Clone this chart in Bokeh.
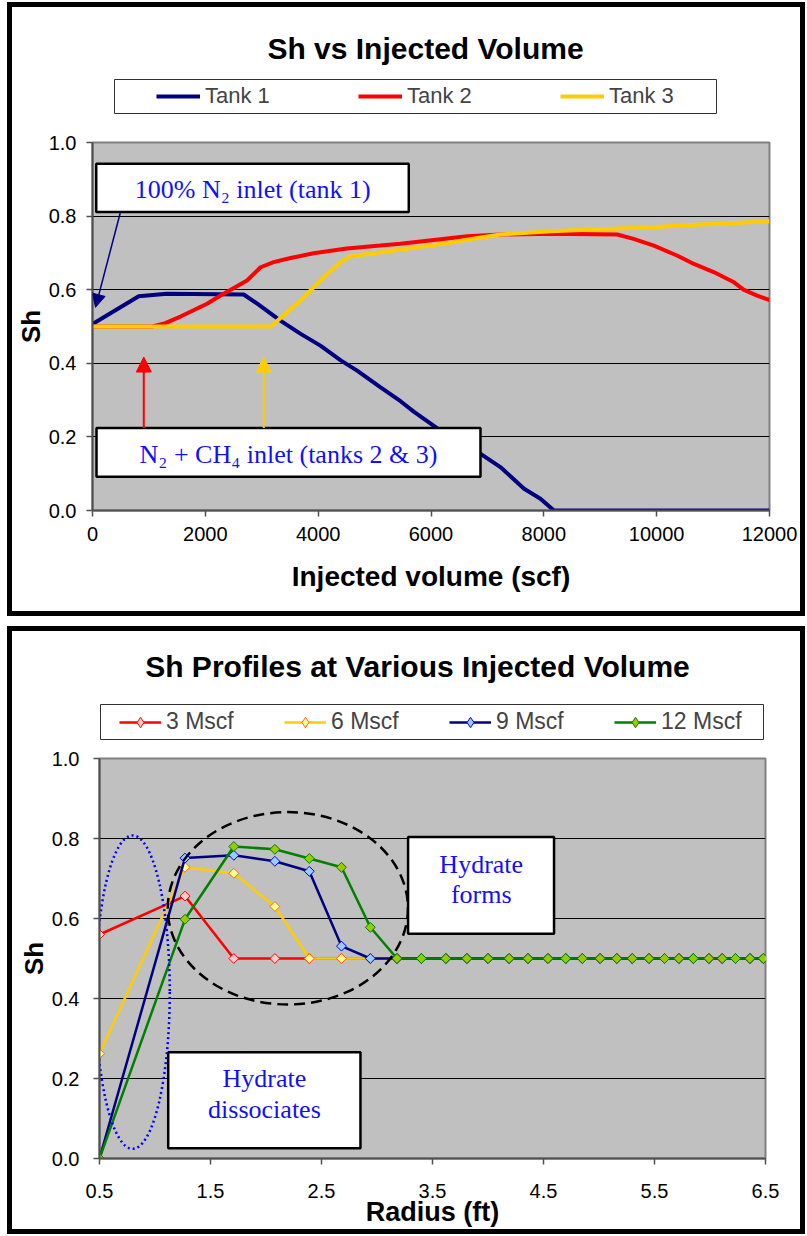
import math

from bokeh.embed import file_html
from bokeh.layouts import column
from bokeh.models import (Arrow, BoxAnnotation, FixedTicker, Label, Legend,
                          LegendItem, NormalHead, PrintfTickFormatter, Range1d)
from bokeh.plotting import figure
from bokeh.resources import INLINE

# ---------------------------------------------------------------------------
# Data: hydrate saturation (Sh) vs injected volume for the three tanks
# ---------------------------------------------------------------------------
tank1_vol = [0, 820, 1320, 2680, 2920, 3330, 3690, 4040, 4400, 4690, 5100,
             5460, 5700, 6170, 6520, 6880, 7230, 7650, 7940, 8180, 9000,
             10000, 11000, 12000]
tank1_sh = [0.507, 0.582, 0.589, 0.587, 0.562, 0.516, 0.480, 0.448, 0.408,
            0.380, 0.335, 0.297, 0.268, 0.217, 0.186, 0.154, 0.118, 0.059,
            0.032, 0.0, 0.0, 0.0, 0.0, 0.0]

tank2_vol = [0, 1060, 1290, 1560, 2030, 2270, 2740, 2980, 3210, 3510, 3920,
             4510, 5100, 5460, 6050, 6640, 7230, 8120, 9300, 9590, 9950,
             10360, 10660, 11010, 11370, 11540, 11780, 12000]
tank2_sh = [0.500, 0.500, 0.509, 0.527, 0.562, 0.584, 0.625, 0.661, 0.675,
            0.686, 0.699, 0.712, 0.720, 0.725, 0.735, 0.745, 0.750, 0.752,
            0.750, 0.738, 0.720, 0.693, 0.670, 0.648, 0.620, 0.600, 0.584,
            0.572]

tank3_vol = [0, 3160, 3690, 4040, 4400, 4570, 5100, 5700, 6290, 6880, 7230,
             8120, 9000, 9890, 10780, 11370, 12000]
tank3_sh = [0.500, 0.500, 0.571, 0.625, 0.675, 0.690, 0.702, 0.714, 0.727,
            0.742, 0.750, 0.759, 0.764, 0.770, 0.777, 0.781, 0.786]

tank_labels = ["Tank 1", "Tank 2", "Tank 3"]

vol_ticks = [0, 2000, 4000, 6000, 8000, 10000, 12000]
sh_ticks = [0.0, 0.2, 0.4, 0.6, 0.8, 1.0]

# ---------------------------------------------------------------------------
# Data: Sh radial profiles at four injected volumes
# ---------------------------------------------------------------------------
radius_ft = [0.50, 1.27, 1.71, 2.08, 2.39, 2.68, 2.94, 3.18, 3.40, 3.62,
             3.81, 4.00, 4.19, 4.36, 4.54, 4.70, 4.85, 5.01, 5.16, 5.30,
             5.45, 5.59, 5.72, 5.85, 5.99, 6.11, 6.23, 6.36, 6.48]

sh_3mscf = [0.560, 0.656, 0.500, 0.500, 0.500, 0.500, 0.500, 0.500, 0.500, 0.500,
            0.500, 0.500, 0.500, 0.500, 0.500, 0.500, 0.500, 0.500, 0.500, 0.500,
            0.500, 0.500, 0.500, 0.500, 0.500, 0.500, 0.500, 0.500, 0.500]
sh_6mscf = [0.262, 0.728, 0.713, 0.630, 0.500, 0.500, 0.500, 0.500, 0.500, 0.500,
            0.500, 0.500, 0.500, 0.500, 0.500, 0.500, 0.500, 0.500, 0.500, 0.500,
            0.500, 0.500, 0.500, 0.500, 0.500, 0.500, 0.500, 0.500, 0.500]
sh_9mscf = [0.000, 0.751, 0.758, 0.743, 0.718, 0.531, 0.500, 0.500, 0.500, 0.500,
            0.500, 0.500, 0.500, 0.500, 0.500, 0.500, 0.500, 0.500, 0.500, 0.500,
            0.500, 0.500, 0.500, 0.500, 0.500, 0.500, 0.500, 0.500, 0.500]
sh_12mscf = [0.000, 0.598, 0.780, 0.773, 0.750, 0.728, 0.578, 0.500, 0.500, 0.500,
             0.500, 0.500, 0.500, 0.500, 0.500, 0.500, 0.500, 0.500, 0.500, 0.500,
             0.500, 0.500, 0.500, 0.500, 0.500, 0.500, 0.500, 0.500, 0.500]

profile_labels = ["3 Mscf", "6 Mscf", "9 Mscf", "12 Mscf"]
radius_ticks = [0.5, 1.5, 2.5, 3.5, 4.5, 5.5, 6.5]

# ---------------------------------------------------------------------------
# Styling
# ---------------------------------------------------------------------------
SANS = "Liberation Sans"
SERIF = "Liberation Serif"
NOTE_BLUE = "#1010ff"
PLOT_BG = "#c0c0c0"
NAVY, RED, GOLD, GREEN = "#000080", "#ff0000", "#ffcc00", "#008000"

# line colour, marker outline, marker fill for the four profiles
profile_styles = [(RED, RED, "#ffcccc"),
                  (GOLD, "#ff6600", "#ffff99"),
                  (NAVY, "#0000ff", "#99ccff"),
                  (GREEN, GREEN, "#99cc00")]


def header_panel(frame_w, height, left, right):
    """Strip above a chart for its title and legend.

    Its frame lines up with the chart frame below it, and its ranges are the
    canvas pixel coordinates, so positions read as pixels."""
    h = figure(frame_width=frame_w, frame_height=height,
               min_border_left=left, min_border_right=right,
               min_border_top=0, min_border_bottom=0,
               x_range=Range1d(left, left + frame_w),
               y_range=Range1d(height, 0),
               x_axis_location=None, y_axis_location=None,
               output_backend="svg", toolbar_location=None,
               outline_line_color=None, background_fill_color="white",
               border_fill_color="white")
    h.grid.visible = False
    return h


def chart_panel(frame_w, frame_h, left, right, top, bottom, x_range):
    p = figure(frame_width=frame_w, frame_height=frame_h,
               min_border_left=left, min_border_right=right,
               min_border_top=top, min_border_bottom=bottom,
               x_range=x_range, y_range=Range1d(0, 1),
               output_backend="svg", toolbar_location=None,
               background_fill_color=PLOT_BG, border_fill_color="white",
               outline_line_color="#808080", outline_line_width=2)
    p.xgrid.visible = False
    p.ygrid.grid_line_color = "black"
    p.ygrid.grid_line_width = 1
    return p


def style_axes(p, xticks, xfmt, font_size, x_standoff, y_standoff,
               xlabel, xlabel_size, xlabel_standoff, ylabel_standoff):
    for ax in (p.xaxis[0], p.yaxis[0]):
        ax.axis_line_color = "#505050"
        ax.axis_line_width = 2
        ax.major_tick_line_color = "#505050"
        ax.major_tick_line_width = 1.5
        ax.major_tick_out = 6
        ax.major_tick_in = 0
        ax.minor_tick_line_color = None
        ax.major_label_text_font = SANS
        ax.major_label_text_font_size = font_size
        ax.major_label_text_color = "black"
        ax.axis_label_text_font = SANS
        ax.axis_label_text_font_style = "bold"
        ax.axis_label_text_color = "black"
    p.xaxis[0].ticker = FixedTicker(ticks=xticks)
    if xfmt:
        p.xaxis[0].formatter = PrintfTickFormatter(format=xfmt)
    p.xaxis[0].major_label_standoff = x_standoff
    p.xaxis[0].axis_label = xlabel
    p.xaxis[0].axis_label_text_font_size = xlabel_size
    p.xaxis[0].axis_label_standoff = xlabel_standoff
    p.yaxis[0].ticker = FixedTicker(ticks=sh_ticks)
    p.yaxis[0].formatter = PrintfTickFormatter(format="%.1f")
    p.yaxis[0].major_label_standoff = y_standoff
    p.yaxis[0].axis_label = "Sh"
    p.yaxis[0].axis_label_text_font_size = "26px"
    p.yaxis[0].axis_label_standoff = ylabel_standoff
    p.ygrid[0].ticker = FixedTicker(ticks=sh_ticks)


def title_text(h, x, y, text):
    h.add_layout(Label(x=x, y=y, text=text, text_font=SANS,
                       text_font_style="bold", text_font_size="30px",
                       text_color="black", text_align="center",
                       text_baseline="middle"))


def legend_box(h, left, right, top, bottom):
    h.add_layout(BoxAnnotation(left=left, right=right, top=top, bottom=bottom,
                               fill_color="white", fill_alpha=1.0,
                               line_color="#303030", line_width=1,
                               line_alpha=1.0))


def note_box(p, left, right, top, bottom):
    p.add_layout(BoxAnnotation(left=left, right=right, top=top, bottom=bottom,
                               fill_color="white", fill_alpha=1.0,
                               line_color="black", line_width=2.5,
                               line_alpha=1.0))


def note_text(p, x, y, text):
    p.add_layout(Label(x=x, y=y, text=text, text_font=SERIF,
                       text_font_size="26px", text_color=NOTE_BLUE,
                       text_align="center", text_baseline="middle"))


def header_legend(items, x, y, glyph_w, label_w, spacing, font_size):
    return Legend(items=items, orientation="horizontal", location=(x, y),
                  glyph_width=glyph_w, glyph_height=26, label_height=26,
                  label_width=label_w, spacing=spacing, label_standoff=5,
                  padding=0, margin=0, border_line_alpha=0,
                  background_fill_alpha=0, inactive_fill_alpha=0,
                  label_text_font=SANS, label_text_font_size=font_size)


# ---------------------------------------------------------------------------
# Panel 1: Sh vs Injected Volume
# ---------------------------------------------------------------------------
P1_LEFT, P1_RIGHT, P1_FW = 80, 31, 677
h1 = header_panel(P1_FW, 120, P1_LEFT, P1_RIGHT)
p1 = chart_panel(P1_FW, 368, P1_LEFT, P1_RIGHT, 15, 101, Range1d(0, 12000))
style_axes(p1, vol_ticks, None, "20px", 10, 10,
           "Injected volume (scf)", "28px", 17, 0)

tank_colors = [NAVY, RED, GOLD]
tank_vols = [tank1_vol, tank2_vol, tank3_vol]
tank_shs = [tank1_sh, tank2_sh, tank3_sh]
tank_items = []
for lab, vol, sh, col in zip(tank_labels, tank_vols, tank_shs, tank_colors):
    p1.line(vol, sh, line_color=col, line_width=4)
    # hidden twin in the header, used only as the legend sample
    key = h1.line(vol, sh, line_color=col, line_width=4, visible=False)
    tank_items.append(LegendItem(label=lab, renderers=[key]))

# annotation boxes with arrows pointing at the inlet responses
note_box(p1, 66, 5606, 0.942, 0.811)
note_text(p1, 2840, 0.872, "100% N\u2082 inlet (tank 1)")
p1.add_layout(Arrow(end=NormalHead(size=13, fill_color=NAVY, line_color=NAVY),
                    x_start=496, y_start=0.811, x_end=53, y_end=0.552,
                    line_color=NAVY, line_width=1.5))

note_box(p1, 71, 6877, 0.224, 0.092)
note_text(p1, 3474, 0.152, "N\u2082 + CH\u2084 inlet (tanks 2 & 3)")
p1.add_layout(Arrow(end=NormalHead(size=15, fill_color=RED, line_color=RED),
                    x_start=909, y_start=0.224, x_end=909, y_end=0.417,
                    line_color=RED, line_width=2))
p1.add_layout(Arrow(end=NormalHead(size=15, fill_color=GOLD, line_color=GOLD),
                    x_start=3036, y_start=0.224, x_end=3036, y_end=0.417,
                    line_color=GOLD, line_width=2))

title_text(h1, 413, 40.5, "Sh vs Injected Volume")
legend_box(h1, 102, 704, 72, 106)
h1.add_layout(header_legend(tank_items, 64, 18, 44, 100, 53, "22px"))

# ---------------------------------------------------------------------------
# Panel 2: Sh profiles along the radius
# ---------------------------------------------------------------------------
P2_LEFT, P2_RIGHT, P2_FW = 87, 35, 666
h2 = header_panel(P2_FW, 113, P2_LEFT, P2_RIGHT)
p2 = chart_panel(P2_FW, 400, P2_LEFT, P2_RIGHT, 14, 71, Range1d(0.5, 6.5))
style_axes(p2, radius_ticks, "%.1f", "20px", 19, 14,
           "Radius (ft)", "27px", -4, 0)

profile_series = [sh_3mscf, sh_6mscf, sh_9mscf, sh_12mscf]
profile_items = []
for lab, vals, (lc, mc, mf) in zip(profile_labels, profile_series,
                                   profile_styles):
    p2.line(radius_ft, vals, line_color=lc, line_width=2.5)
    p2.scatter(radius_ft, vals, marker="square", angle=math.pi / 4,
               size=7, line_color=mc, fill_color=mf, line_width=1)
    # hidden twins in the header, used only as the legend sample
    kl = h2.line(radius_ft, vals, line_color=lc, line_width=2.5,
                 visible=False)
    km = h2.scatter(radius_ft, vals, marker="diamond", size=11,
                    line_color=mc, fill_color=mf, line_width=1,
                    visible=False)
    profile_items.append(LegendItem(label=lab, renderers=[kl, km]))

# regions of dissociation and formation
p2.ellipse(x=[0.7985], y=[0.416], width=0.669, height=0.7835,
           fill_alpha=0, line_color="#0000ff", line_width=2.5,
           line_dash="2 3")
p2.ellipse(x=[2.197], y=[0.6255], width=2.164, height=0.481,
           fill_alpha=0, line_color="black", line_width=2.5,
           line_dash="11 6")

note_box(p2, 3.28, 4.595, 0.8035, 0.5618)
note_text(p2, 3.939, 0.736, "Hydrate")
note_text(p2, 3.939, 0.659, "forms")

note_box(p2, 1.119, 2.851, 0.2658, 0.0258)
note_text(p2, 1.986, 0.200, "Hydrate")
note_text(p2, 1.986, 0.122, "dissociates")

title_text(h2, 405, 35, "Sh Profiles at Various Injected Volume")
legend_box(h2, 88, 751, 73, 108)
h2.add_layout(header_legend(profile_items, 20, 9, 42, 90, 28, "23px"))

# ---------------------------------------------------------------------------
# Page: two framed panels stacked vertically
# ---------------------------------------------------------------------------
frame_css = {"outline": "5px solid black"}
panel1 = column(h1, p1, spacing=0, styles=frame_css, margin=(7, 0, 0, 12))
panel2 = column(h2, p2, spacing=0, styles=frame_css, margin=(20, 0, 0, 12))
layout = column(panel1, panel2, spacing=0)

with open("out.html", "w") as f:
    f.write(file_html(layout, INLINE, "Sh vs Injected Volume"))
